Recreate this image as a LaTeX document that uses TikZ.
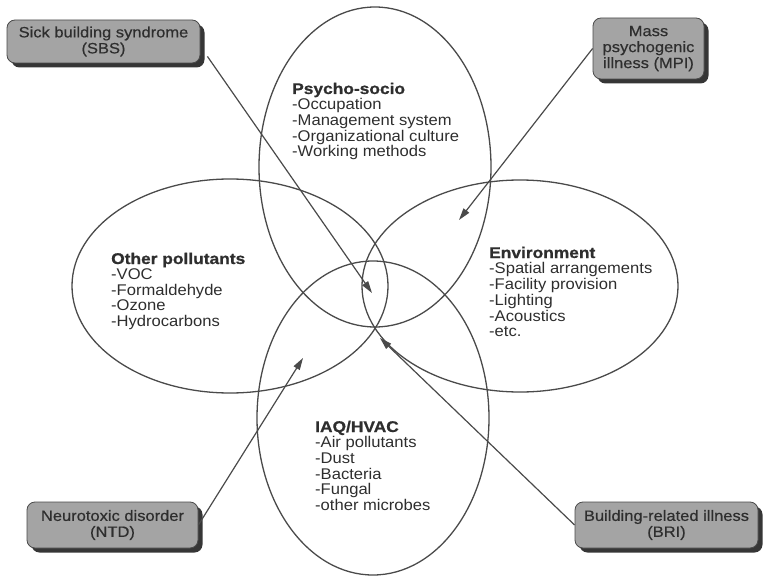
\documentclass[tikz,border=0pt]{standalone}
\usepackage{fontspec}
\setmainfont{Liberation Sans}[FakeStretch=1.07]
\newfontfamily\titlef{Liberation Sans}[FakeStretch=1.12,FakeBold=0.8]
\newfontfamily\boxf{Liberation Sans}[FakeStretch=1.1,FakeBold=0.5]
\usetikzlibrary{shapes.geometric,shadows,arrows.meta,calc}
\definecolor{inkc}{HTML}{2E2E2E}
\definecolor{linec}{HTML}{4A4A4A}
\definecolor{boxfill}{HTML}{A4A4A4}
\definecolor{shadowc}{HTML}{363636}
\tikzset{
  ring/.style={ellipse, draw=linec, line width=1.3pt, inner sep=0pt, minimum width=#1},
  listtext/.style={anchor=base west, inner sep=0pt, text=inkc, font=\fontsize{15.5}{15.4}\selectfont},
  illbox/.style={rectangle, rounded corners=8pt, draw=linec, line width=0.8pt, fill=boxfill,
    text=inkc, align=center, inner sep=1pt, font=\boxf\fontsize{15}{16}\selectfont,
    drop shadow={shadow xshift=4.5pt, shadow yshift=-4.5pt, fill=shadowc, opacity=1}},
  pointer/.style={draw=linec, line width=1.2pt, -{Triangle[length=12pt,width=7pt]}}
}
\newcommand{\ttl}[1]{{\titlef\bfseries #1}}
\begin{document}
\begin{tikzpicture}[x=1pt,y=-1pt]
\useasboundingbox (0,0) rectangle (766,578);
% ellipses
\node[ring=232pt, minimum height=320pt] (psy) at (375,167) {};
\node[ring=316pt, minimum height=214pt] (oth) at (230,286) {};
\node[ring=316pt, minimum height=212pt] (env) at (520,286) {};
\node[ring=232pt, minimum height=314pt] (iaq) at (373,418) {};
% texts
\node[listtext] (psyT) at (292,94) {\begin{tabular}[t]{@{}l@{}}\ttl{Psycho-socio}\\-Occupation\\-Management system\\-Organizational culture\\-Working methods\end{tabular}};
\node[listtext] (othT) at (111,264) {\begin{tabular}[t]{@{}l@{}}\ttl{Other pollutants}\\-VOC\\-Formaldehyde\\-Ozone\\-Hydrocarbons\end{tabular}};
\node[listtext] (envT) at (489,258) {\begin{tabular}[t]{@{}l@{}}\ttl{Environment}\\-Spatial arrangements\\-Facility provision\\-Lighting\\-Acoustics\\-etc.\end{tabular}};
\node[listtext] (iaqT) at (315,432) {\begin{tabular}[t]{@{}l@{}}\ttl{IAQ/HVAC}\\-Air pollutants\\-Dust\\-Bacteria\\-Fungal\\-other microbes\end{tabular}};
% boxes
\node[illbox, minimum width=193pt, minimum height=43pt] (sbs) at (103.5,41.5) {Sick building syndrome\\(SBS)};
\node[illbox, minimum width=111pt, minimum height=61pt] (mpi) at (648.5,48.5) {Mass\\psychogenic\\illness (MPI)};
\node[illbox, minimum width=171pt, minimum height=46pt] (ntd) at (112.5,525) {Neurotoxic disorder\\(NTD)};
\node[illbox, minimum width=183pt, minimum height=46pt] (bri) at (666.5,525) {Building-related illness\\(BRI)};
% arrow tips
\coordinate (sbsTip) at (372,293);
\coordinate (mpiTip) at (459,220);
\coordinate (ntdTip) at (303,358);
\coordinate (briTip) at (380,338);
\draw[pointer] ([xshift=7pt,yshift=7pt]sbs.south east) -- (sbsTip);
\draw[pointer] (mpi.west) -- (mpiTip);
\draw[pointer] (ntd.east) -- (ntdTip);
\draw[pointer] (bri.west) -- (briTip);
\end{tikzpicture}
\end{document}
